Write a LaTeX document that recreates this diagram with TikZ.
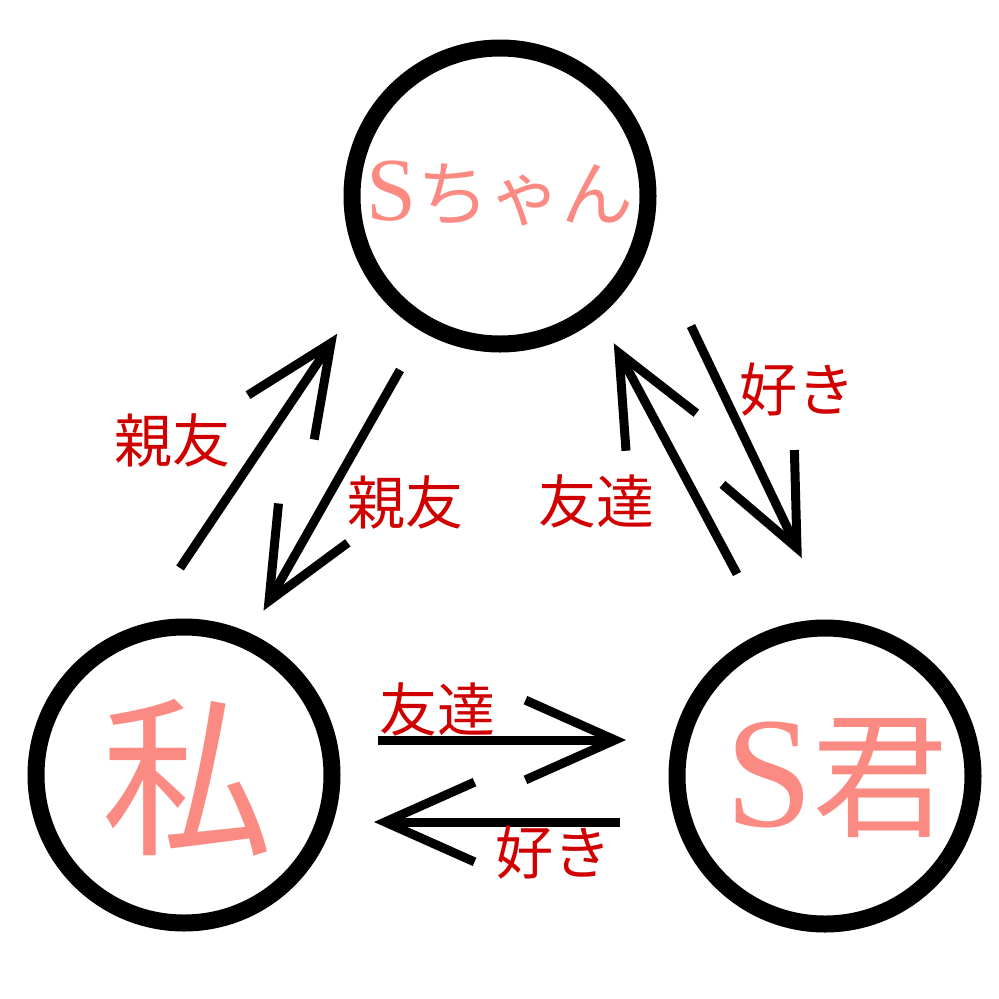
\documentclass[tikz,border=0pt]{standalone}
\usepackage{fontspec}
\setmainfont{Liberation Serif}
\newfontfamily\cjk{Noto Sans CJK JP}
\usetikzlibrary{calc}
\definecolor{namepink}{HTML}{FA8A82}
\definecolor{labelred}{HTML}{D00000}
\tikzset{
  person/.style={circle, draw=black, line width=17pt, minimum size=296pt, inner sep=0pt},
  nametext/.style={text=namepink, inner sep=0pt, anchor=center},
  reltext/.style={text=labelred, inner sep=0pt, anchor=center, font=\cjk\fontsize{58}{60}\selectfont},
  relarrow/.style={draw=black, line width=9pt, line join=miter, miter limit=10}
}
% shaft from #1 to #2 with an open chevron head at #2
\newcommand\relchev[2]{%
  \draw[relarrow] (#1) -- (#2);
  \draw[relarrow] ($(#2)!98pt!24:(#1)$) -- (#2) -- ($(#2)!98pt!-24:(#1)$);
}
\begin{document}
\begin{tikzpicture}[x=1pt, y=-1pt]
\useasboundingbox (0,0) rectangle (999,999);
% circles
\node[person] (schan) at (500,196) {};
\node[person] (watashi) at (184,775) {};
\node[person] (skun) at (825,776) {};
% names
\node[nametext] (tschan) at (500,194) {{\fontsize{90}{92}\selectfont S}{\cjk\fontsize{72}{74}\selectfont ちゃん}};
\node[nametext, font=\cjk\fontsize{172}{176}\selectfont] (twatashi) at (187,778) {私};
\node[nametext] (tskun) at (837,778) {{\fontsize{158}{160}\selectfont S}{\cjk\fontsize{136}{140}\selectfont 君}};
% arrow end points
\coordinate (a1s) at (180,568); \coordinate (a1e) at (331,343);
\coordinate (a2s) at (400,370); \coordinate (a2e) at (269,601);
\coordinate (a3s) at (737,574); \coordinate (a3e) at (619,353);
\coordinate (a4s) at (691,326); \coordinate (a4e) at (797,548);
\coordinate (a5s) at (378,740); \coordinate (a5e) at (615,740);
\coordinate (a6s) at (620,822); \coordinate (a6e) at (385,822);
\relchev{a1s}{a1e}
\relchev{a2s}{a2e}
\relchev{a3s}{a3e}
\relchev{a4s}{a4e}
\relchev{a5s}{a5e}
\relchev{a6s}{a6e}
% labels
\node[reltext] (l1) at (172,441) {親友};
\node[reltext] (l2) at (405,503) {親友};
\node[reltext] (l3) at (596,501) {友達};
\node[reltext] (l4) at (797,390) {好き};
\node[reltext] (l5) at (437,709) {友達};
\node[reltext] (l6) at (553,853) {好き};
\end{tikzpicture}
\end{document}
